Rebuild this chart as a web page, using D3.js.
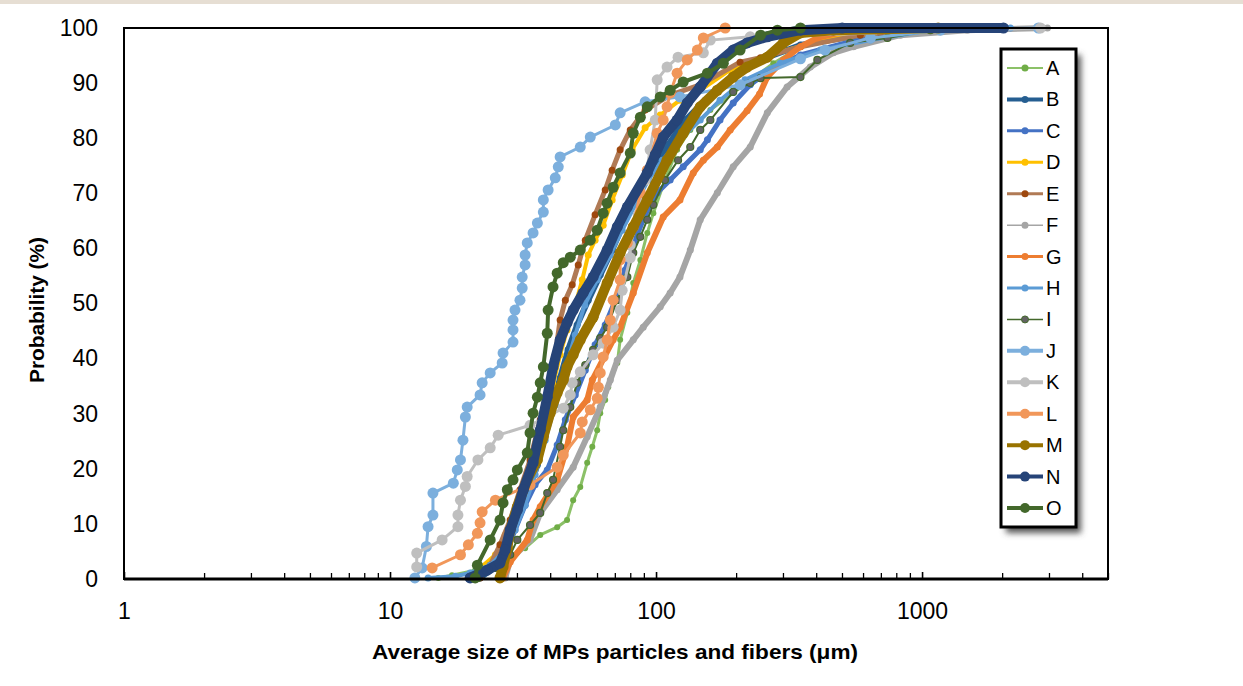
<!DOCTYPE html>
<html>
<head>
<meta charset="utf-8">
<script src="https://cdn.jsdelivr.net/npm/d3@7"></script>
<style>
  html, body { margin: 0; padding: 0; background: #fff; }
  svg { display: block; font-family: "Liberation Sans", Arial, sans-serif; }
</style>
</head>
<body>
<svg id="chart" width="1243" height="686"></svg>
<script>
// ----- data: [size (µm), cumulative probability (%)] -----
const seriesNames = ["A", "B", "C", "D", "E", "F", "G", "H", "I", "J", "K", "L", "M", "N", "O"];
const xTickValues = [1, 10, 100, 1000];
const yTickValues = [0, 10, 20, 30, 40, 50, 60, 70, 80, 90, 100];

const dataA = [[15.2,0.2],[17.1,0.7],[20.9,1.6],[25.9,2.9],[32.2,5.6],[36.7,8.0],[42.5,9.4],[46.3,10.7],[48.8,14.3],[51.9,16.7],[55.1,21.1],[57.6,24.0],[60.1,27.0],[61.7,30.1],[64.4,32.5],[66.1,34.8],[71.5,39.2],[73.3,43.4],[78.0,48.3],[82.1,53.7],[87.3,57.9],[92.7,62.8],[97.7,66.4],[108,72.4],[120,77.9],[134.5,81.5],[160,85.1],[195,88.2],[276,93.6],[349,96.6],[493,98.7],[715,100]];
const dataB = [[21.8,0.2],[25.3,2.5],[27.6,6.2],[30.1,10.7],[32.8,15.2],[35.8,20.7],[38.3,26.1],[41.0,31.6],[43.6,36.5],[46.7,41.6],[50.5,46.1],[55.6,50.6],[61.7,55.2],[68.4,59.7],[76.6,65.2],[85.7,69.7],[96.8,74.2],[111,78.8],[129,83.3],[153,86.9],[190,90.6],[247,94.2],[349,96.9],[586,98.7],[1172,99.6],[1970,100]];
const dataC = [[20.0,0.2],[23.8,1.6],[27.1,4.4],[29.5,8.9],[32.2,13.4],[35.1,17.1],[39.0,19.8],[42.5,24.3],[45.6,28.9],[49.7,33.4],[54.2,37.9],[59.0,42.5],[64.4,46.1],[70.3,50.6],[76.6,56.1],[83.5,61.5],[91.0,66.1],[101,70.1],[113,72.4],[126.5,74.8],[146.6,77.9],[156,79.7],[174,83.3],[195,86.4],[226,89.7],[269,92.4],[349,95.1],[537,97.5],[829,98.9],[1970,100]];
const dataD = [[20.0,0.2],[21.8,2.0],[24.9,4.4],[27.1,8.0],[29.5,12.5],[32.2,18.0],[35.1,23.4],[38.3,29.8],[41.0,35.2],[43.6,40.7],[46.3,45.2],[49.7,49.7],[52.8,54.3],[55.6,58.8],[59.0,61.5],[63.3,64.2],[68.4,68.8],[74.6,73.3],[81.3,77.9],[91.0,81.9],[103.7,84.2],[123,86.9],[146.6,88.7],[190,92.4],[269,95.1],[415,97.8],[640,99.6],[1277,100]];
const dataE = [[21.8,0.2],[23.8,2.5],[25.9,6.2],[28.3,10.7],[30.8,16.2],[33.6,21.6],[36.7,28.9],[39.3,35.2],[41.8,40.7],[43.6,47.0],[45.6,50.6],[48.4,53.4],[51.0,57.0],[54.2,61.5],[59.0,66.1],[64.4,70.6],[68.4,74.2],[73.3,77.9],[80.0,81.5],[91.0,85.1],[113,87.8],[146.6,89.7],[207,93.8],[247,94.6],[349,96.6],[586,98.7],[697,99.1],[1393,100]];
const dataF = [[27.1,0.2],[28.3,3.4],[33.6,7.1],[36.7,12.0],[42.5,16.2],[48.8,20.3],[55.1,25.8],[61.7,31.2],[67.3,36.1],[71.5,39.7],[82.1,43.4],[89.5,45.7],[103.7,49.4],[113,51.9],[123,54.8],[134.5,59.7],[146.6,65.2],[170,70.1],[195,74.8],[226,78.4],[262,84.6],[311,89.3],[380,92.9],[464,95.5],[552,96.6],[829,98.7],[1480,99.6],[2960,100]];
const dataG = [[26.6,0.2],[28.3,3.1],[32.8,7.1],[34.5,10.7],[36.7,13.1],[42.5,18.0],[46.3,24.0],[48.8,29.4],[55.1,32.5],[57.6,36.1],[69.0,43.4],[73.3,45.7],[82.1,51.9],[92.7,59.2],[106.4,65.7],[123,68.8],[138,73.7],[150.6,76.0],[170,78.4],[190,81.5],[220,85.0],[245,88.0],[262,91.1],[301,94.2],[349,96.6],[404,98.2],[537,99.6],[640,100]];
const dataH = [[13.9,0.2],[17.6,0.5],[20.0,1.1],[23.8,2.5],[27.1,5.3],[29.5,8.9],[32.2,13.4],[35.1,18.9],[38.3,25.2],[41.8,31.6],[45.6,37.9],[49.7,44.3],[53.9,49.7],[60.1,54.3],[67.3,58.8],[74.6,63.3],[83.5,67.9],[93.5,72.4],[105.5,76.0],[123,79.7],[146.6,83.3],[174,86.9],[216,90.6],[293,93.6],[415,96.0],[640,97.8],[1074,99.6],[2148,100]];
const dataI = [[21.4,0.2],[24.9,2.0],[28.3,4.4],[30.1,7.1],[33.6,9.8],[36.7,12.0],[39.0,15.6],[41.0,18.0],[43.6,24.0],[44.8,27.0],[47.6,31.2],[50.5,35.6],[54.2,38.8],[58.0,41.6],[61.7,43.7],[65.5,45.7],[71.5,50.6],[78.0,54.8],[82.1,59.2],[87.3,62.1],[92.7,65.2],[97.7,67.9],[108,72.4],[121,76.0],[134.5,78.4],[146.6,81.5],[160,83.3],[195,88.4],[226,90.0],[247,90.9],[349,91.1],[404,94.2],[537,97.3],[741,98.2],[1074,99.6]];
const dataJ = [[12.4,0.2],[13.2,2.0],[13.7,5.9],[13.9,9.5],[14.5,11.6],[14.5,15.6],[17.3,17.4],[17.9,19.8],[18.4,21.6],[18.8,25.2],[19.2,29.4],[19.5,31.2],[21.8,33.4],[22.2,35.6],[23.8,37.4],[26.4,39.2],[26.6,41.0],[29.0,43.0],[29.0,45.2],[29.0,47.0],[29.5,48.8],[30.8,50.6],[31.4,52.8],[31.4,54.8],[32.2,57.0],[32.2,58.8],[32.8,61.0],[34.5,62.8],[35.8,64.6],[37.7,66.6],[37.7,68.8],[39.3,70.6],[41.8,72.8],[42.9,74.8],[43.6,76.6],[51.9,78.4],[56.6,80.2],[70.3,82.4],[73.3,84.6],[91.0,86.6],[123,87.5],[207,89.7],[349,94.4],[432,96.0],[640,98.2],[1172,99.6],[2737,100]];
const dataK = [[12.6,2.2],[12.6,4.7],[15.7,7.1],[18.0,9.5],[18.0,11.6],[18.4,14.3],[19.2,16.8],[19.5,18.6],[21.4,21.6],[23.8,23.8],[25.5,26.1],[33.6,27.9],[44.8,31.0],[47.6,33.4],[48.4,35.6],[51.9,37.6],[58.0,40.7],[63.3,42.8],[69.0,45.7],[73.3,48.8],[74.6,52.4],[80.0,58.3],[80.0,60.6],[85.7,66.1],[91.0,72.4],[95.0,77.9],[99.3,83.3],[101,90.6],[110,92.9],[121,94.7],[150.6,95.5],[160,97.8],[226,98.4],[2786,100]];
const dataL = [[14.4,2.0],[18.4,4.4],[19.7,6.2],[21.3,8.3],[21.8,10.2],[22.2,12.2],[24.9,14.3],[33.6,17.1],[42.5,20.3],[44.8,22.5],[51.9,26.5],[52.8,28.5],[56.6,30.7],[60.1,32.8],[60.7,34.8],[61.7,37.4],[63.3,40.3],[65.5,43.4],[67.3,47.0],[69.0,50.6],[73.3,54.3],[73.3,57.9],[78.0,61.0],[82.1,63.9],[87.3,70.1],[92.7,74.2],[101,80.9],[106.4,83.3],[110,85.7],[113,88.2],[120,91.8],[131,94.2],[143,96.0],[150.6,98.2],[182,100]];
const dataM = [[25.9,0.2],[26.6,2.2],[27.6,5.6],[28.3,8.9],[30.1,13.1],[32.8,18.0],[35.8,21.6],[37.7,25.8],[40.0,30.1],[42.5,33.8],[44.8,36.1],[46.3,38.5],[48.8,40.7],[51.9,43.4],[58.0,47.5],[65.5,53.7],[73.3,59.2],[82.1,63.9],[92.7,68.8],[110,76.0],[126.5,80.9],[146.6,85.7],[170,88.7],[195,91.1],[220,92.9],[262,94.7],[301,97.3],[349,99.1],[464,99.6],[1150,100]];
const dataN = [[20.0,0.2],[23.2,1.6],[25.9,2.9],[27.1,5.3],[28.3,8.9],[30.1,12.5],[31.7,16.2],[34.5,21.1],[36.7,27.0],[39.0,33.0],[41.0,38.5],[43.6,43.4],[46.3,46.5],[48.8,48.8],[53.2,51.9],[58.0,54.8],[65.5,59.7],[71.5,63.9],[78.0,67.5],[92.7,73.7],[99.3,77.0],[106.4,80.2],[120,83.3],[131,86.4],[146.6,89.3],[170,93.6],[195,96.0],[220,97.3],[262,98.4],[349,99.6],[501,100],[2023,100]];
const dataO = [[20.9,0.2],[21.3,2.5],[23.8,7.1],[25.9,10.7],[26.6,13.8],[27.6,16.2],[29.0,18.0],[30.1,19.8],[32.8,22.9],[33.6,26.5],[34.5,30.1],[35.8,33.0],[36.7,35.6],[37.7,38.5],[39.0,44.6],[39.3,48.8],[41.0,53.0],[42.5,55.5],[44.8,57.4],[47.6,58.4],[51.9,59.7],[56.6,61.5],[60.1,63.3],[63.3,66.4],[65.5,68.2],[69.0,71.1],[73.3,73.7],[80.0,77.3],[82.1,80.9],[87.3,83.8],[92.7,85.7],[103.7,87.5],[113,88.7],[126.5,90.2],[156,91.8],[179,93.6],[207,96.0],[247,98.7],[286,99.6],[349,100]];

const seriesData = [dataA, dataB, dataC, dataD, dataE, dataF, dataG, dataH, dataI, dataJ, dataK, dataL, dataM, dataN, dataO];

// ----- styles -----
const lineColors   = ["#8cc168", "#255e91", "#4472c4", "#ffc000", "#b07a55", "#a5a5a5", "#ed7d31", "#5b9bd5", "#43682b", "#7cafdd", "#bfbfbf", "#f1975a", "#997300", "#264478", "#43682b"];
const markerColors = ["#70ad47", "#255e91", "#4472c4", "#ffc000", "#9e480e", "#a5a5a5", "#ed7d31", "#5b9bd5", "#636363", "#7cafdd", "#bfbfbf", "#f1975a", "#997300", "#264478", "#43682b"];
const lineWidths   = [3, 6, 5, 4, 5, 6, 6, 4, 2, 3, 3, 3, 10, 10, 4];
const legendWidths = [2, 4, 3, 3, 3, 1.5, 3, 3, 1.5, 4, 4, 4, 4, 4, 4];
const markerR      = [3, 3.5, 3.5, 3.5, 3.5, 3.5, 3.5, 3.5, 3.5, 5.5, 5.5, 5.5, 5.5, 5.5, 5.5];

const svg = d3.select("#chart");
const W = 1243, H = 686;
const plot = { left: 124, right: 1108, top: 28, bottom: 579 };

// 顶部淡色条
svg.append("rect").attr("x", 0).attr("y", 0).attr("width", W).attr("height", 4).attr("fill", "#e6ded3");

const x = d3.scaleLog().domain([1, 5000]).range([plot.left, plot.right]);
const y = d3.scaleLinear().domain([0, 100]).range([plot.bottom, plot.top]);

// ----- axes -----
const minorTicks = x.ticks().filter(v => xTickValues.indexOf(v) < 0);
svg.append("g")
    .attr("transform", `translate(0,${plot.bottom})`)
    .call(d3.axisBottom(x).tickValues(minorTicks).tickSize(-6).tickFormat(""))
    .call(g => g.select(".domain").remove())
    .selectAll("line").attr("stroke", "#000").attr("stroke-width", 1.3);

const xAxis = svg.append("g")
    .attr("transform", `translate(0,${plot.bottom})`)
    .call(d3.axisBottom(x).tickValues(xTickValues).tickSizeInner(-7).tickSizeOuter(0).tickPadding(24).tickFormat(d3.format("d")));
xAxis.select(".domain").remove();
xAxis.selectAll("line").attr("stroke", "#000").attr("stroke-width", 1.6);
xAxis.selectAll("text").attr("font-size", 23).attr("fill", "#000").attr("font-family", "Liberation Sans, Arial, sans-serif");

const yAxis = svg.append("g")
    .attr("transform", `translate(${plot.left},0)`)
    .call(d3.axisLeft(y).tickValues(yTickValues).tickSize(0).tickPadding(26));
yAxis.select(".domain").remove();
yAxis.selectAll("text").attr("font-size", 23).attr("fill", "#000").attr("font-family", "Liberation Sans, Arial, sans-serif");

// ----- series (A 先画, O 在最上层) -----
const line = d3.line().x(d => x(d[0])).y(d => y(d[1]));
const seriesG = svg.append("g");
seriesData.forEach((data, i) => {
    const g = seriesG.append("g");
    g.append("path")
        .datum(data)
        .attr("d", line)
        .attr("fill", "none")
        .attr("stroke", lineColors[i])
        .attr("stroke-width", lineWidths[i])
        .attr("stroke-linejoin", "round")
        .attr("stroke-linecap", "round");
    g.selectAll("circle")
        .data(data)
        .enter().append("circle")
        .attr("cx", d => x(d[0]))
        .attr("cy", d => y(d[1]))
        .attr("r", markerR[i])
        .attr("fill", markerColors[i])
        .attr("stroke", i === 8 ? "#43682b" : "none")
        .attr("stroke-width", 1.2);
});

// frame
svg.append("rect")
    .attr("x", plot.left).attr("y", plot.top)
    .attr("width", plot.right - plot.left).attr("height", plot.bottom - plot.top)
    .attr("fill", "none").attr("stroke", "#000").attr("stroke-width", 2);
svg.append("line")
    .attr("x1", plot.left).attr("x2", plot.right)
    .attr("y1", plot.bottom).attr("y2", plot.bottom)
    .attr("stroke", "#000").attr("stroke-width", 3);

// axis titles
svg.append("text")
    .attr("x", 615).attr("y", 659)
    .attr("text-anchor", "middle")
    .attr("font-size", 21).attr("font-weight", "bold")
    .attr("textLength", 486).attr("lengthAdjust", "spacingAndGlyphs")
    .text("Average size of MPs particles and fibers (μm)");
svg.append("text")
    .attr("transform", "translate(44,310) rotate(-90)")
    .attr("text-anchor", "middle")
    .attr("font-size", 21).attr("font-weight", "bold")
    .attr("textLength", 146).attr("lengthAdjust", "spacingAndGlyphs")
    .text("Probability (%)");

// ----- legend -----
const defs = svg.append("defs");
const blur = defs.append("filter").attr("id", "shadow").attr("x", "-20%").attr("y", "-5%").attr("width", "150%").attr("height", "115%");
blur.append("feGaussianBlur").attr("stdDeviation", 3);

const lg = { x: 1001, y: 49, w: 75, h: 478, top: 68, step: 31.43 };
svg.append("rect")
    .attr("x", lg.x + 5).attr("y", lg.y + 6).attr("width", lg.w).attr("height", lg.h)
    .attr("fill", "#555").attr("filter", "url(#shadow)");
svg.append("rect")
    .attr("x", lg.x).attr("y", lg.y).attr("width", lg.w).attr("height", lg.h)
    .attr("fill", "#fff").attr("stroke", "#000").attr("stroke-width", 3);

const items = svg.append("g").selectAll("g")
    .data(seriesNames)
    .enter().append("g")
    .attr("transform", (d, i) => `translate(0,${lg.top + i * lg.step})`);
items.append("line")
    .attr("x1", 1007).attr("x2", 1043)
    .attr("stroke", (d, i) => lineColors[i])
    .attr("stroke-width", (d, i) => legendWidths[i]);
items.append("circle")
    .attr("cx", 1025)
    .attr("r", (d, i) => i >= 9 ? 5 : 3.5)
    .attr("fill", (d, i) => markerColors[i])
    .attr("stroke", (d, i) => i === 8 ? "#43682b" : "none");
items.append("text")
    .attr("x", 1046).attr("y", 7)
    .attr("font-size", 20)
    .text(d => d);
</script>
</body>
</html>
